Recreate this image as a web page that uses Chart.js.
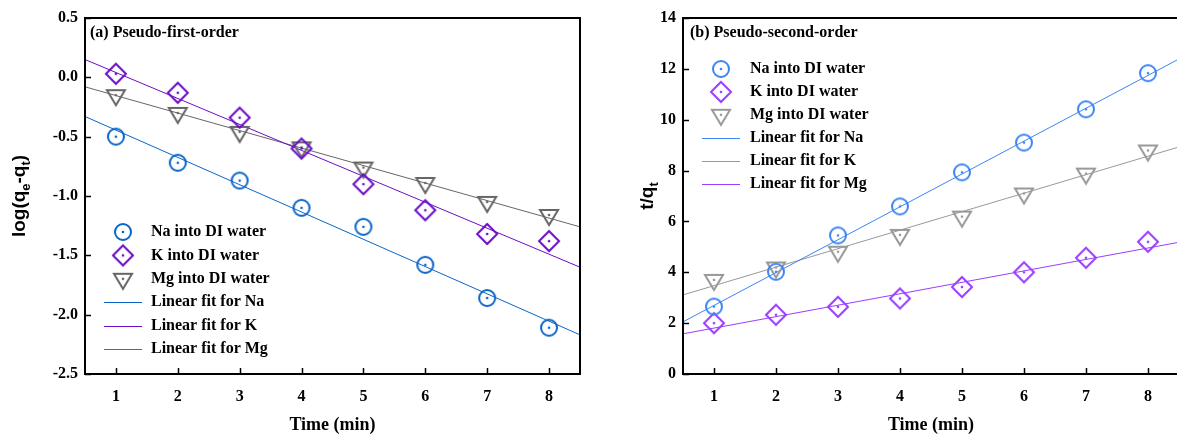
<!DOCTYPE html>
<html>
<head>
<meta charset="utf-8">
<script src="https://cdn.jsdelivr.net/npm/chart.js@4.4.1/dist/chart.umd.min.js"></script>
<style>
  body { margin: 0; background: #fff; overflow: hidden; width: 1177px; height: 438px; position: relative; }
  .panel { position: absolute; top: 0; }
  #boxA { left: 0; }
  #boxB { left: 600px; }
</style>
</head>
<body>
<div class="panel" id="boxA"><canvas id="chartA" width="600" height="438"></canvas></div>
<div class="panel" id="boxB"><canvas id="chartB" width="590" height="438"></canvas></div>
<script>
// time axis (min)
const times = [1, 2, 3, 4, 5, 6, 7, 8];
const xTicks = [1, 2, 3, 4, 5, 6, 7, 8];
const fitX = [0.5, 8.5];

// (a) pseudo-first-order, log(qe-qt)
const naA = [-0.50, -0.72, -0.87, -1.10, -1.26, -1.58, -1.86, -2.11];
const kA = [0.03, -0.13, -0.34, -0.60, -0.90, -1.12, -1.32, -1.38];
const mgA = [-0.15, -0.30, -0.46, -0.59, -0.76, -0.89, -1.05, -1.16];
const naFitA = [-0.33, -2.17];
const kFitA = [0.15, -1.60];
const mgFitA = [-0.08, -1.26];
const yTicksA = [0.5, 0.0, -0.5, -1.0, -1.5, -2.0, -2.5];

// (b) pseudo-second-order, t/qt
const naB = [2.65, 4.02, 5.45, 6.59, 7.93, 9.10, 10.41, 11.83];
const kB = [2.00, 2.33, 2.64, 2.97, 3.42, 4.00, 4.57, 5.20];
const mgB = [3.70, 4.19, 4.81, 5.47, 6.19, 7.10, 7.88, 8.79];
const naFitB = [2.05, 12.39];
const kFitB = [1.58, 5.18];
const mgFitB = [3.11, 8.93];
const yTicksB = [0, 2, 4, 6, 8, 10, 12, 14];

const SERIF = "'Liberation Serif', 'Times New Roman', serif";
const SANS = "'Liberation Sans', Arial, sans-serif";

const pts = (xs, ys) => xs.map((x, i) => ({ x: x, y: ys[i] }));

// hollow marker with a centre dot, like the Origin symbols
function marker(shape, color) {
  const c = document.createElement('canvas');
  c.width = 28; c.height = 28;
  const g = c.getContext('2d');
  const m = 14;
  g.strokeStyle = color; g.fillStyle = color; g.lineWidth = 2;
  g.beginPath();
  if (shape === 'circle') {
    g.arc(m, m, 8, 0, Math.PI * 2);
  } else if (shape === 'diamond') {
    g.moveTo(m, m - 10); g.lineTo(m + 10, m); g.lineTo(m, m + 10); g.lineTo(m - 10, m); g.closePath();
  } else {
    g.moveTo(m - 9, m - 5); g.lineTo(m + 9, m - 5); g.lineTo(m, m + 10); g.closePath();
  }
  g.stroke();
  g.beginPath(); g.arc(m, m, 1.3, 0, Math.PI * 2); g.fill();
  return c;
}

function pointSet(label, ys, shape, color) {
  return { label: label, data: pts(times, ys), pointStyle: marker(shape, color), pointRadius: 9,
           showLine: false, borderColor: color, backgroundColor: color };
}
function fitSet(label, ys, color, legendColor) {
  return { label: label, data: pts(fitX, ys), showLine: true, pointRadius: 0, pointStyle: 'line',
           borderColor: color, borderWidth: 1, legendColor: legendColor || color };
}

function richText(ctx, parts, cx, cy, size) {
  ctx.save();
  ctx.translate(cx, cy);
  ctx.rotate(-Math.PI / 2);
  ctx.fillStyle = '#000';
  ctx.textAlign = 'left';
  ctx.textBaseline = 'middle';
  let total = 0;
  parts.forEach(p => {
    ctx.font = 'bold ' + (p.sub ? size * 0.68 : size) + 'px ' + SANS;
    p.w = ctx.measureText(p.t).width;
    total += p.w;
  });
  let x = -total / 2;
  parts.forEach(p => {
    ctx.font = 'bold ' + (p.sub ? size * 0.68 : size) + 'px ' + SANS;
    ctx.fillText(p.t, x, p.sub ? size * 0.32 : 0);
    x += p.w;
  });
  ctx.restore();
}

const framePlugin = {
  id: 'frame',
  afterDraw(chart) {
    const cfg = chart.options.plugins.frame;
    const ctx = chart.ctx;
    const a = chart.chartArea;
    const xs = chart.scales.x, ys = chart.scales.y;
    ctx.save();
    ctx.strokeStyle = '#000';
    ctx.lineWidth = 2;
    ctx.strokeRect(a.left, a.top, a.right - a.left, a.bottom - a.top);
    // inward tick marks
    ctx.beginPath();
    xs.ticks.forEach(t => {
      const px = Math.round(xs.getPixelForValue(t.value)) + 0.5;
      ctx.moveTo(px, a.bottom); ctx.lineTo(px, a.bottom - 6);
    });
    ys.ticks.forEach(t => {
      const py = Math.round(ys.getPixelForValue(t.value)) + 0.5;
      ctx.moveTo(a.left, py); ctx.lineTo(a.left + 6, py);
    });
    ctx.lineWidth = 1.5;
    ctx.stroke();

    // panel title
    ctx.fillStyle = '#000';
    ctx.font = 'bold 16px ' + SERIF;
    ctx.textAlign = 'left';
    ctx.textBaseline = 'middle';
    ctx.fillText(cfg.title, cfg.titleX, 33);

    // y axis title with subscripts
    richText(ctx, cfg.yTitle, cfg.yTitleX, (a.top + a.bottom) / 2, 19);

    // legend
    const lg = cfg.legend;
    chart.data.datasets.forEach((ds, i) => {
      const y = lg.top + i * lg.step;
      if (ds.pointStyle instanceof HTMLCanvasElement) {
        const img = ds.pointStyle;
        ctx.drawImage(img, lg.x - img.width / 2, y - img.height / 2);
      } else {
        ctx.beginPath();
        ctx.strokeStyle = ds.legendColor;
        ctx.lineWidth = 1;
        ctx.moveTo(lg.x - 19, Math.round(y) + 0.5);
        ctx.lineTo(lg.x + 19, Math.round(y) + 0.5);
        ctx.stroke();
      }
      ctx.fillStyle = '#000';
      ctx.font = 'bold 16px ' + SERIF;
      ctx.fillText(ds.label, lg.textX, y);
    });
    ctx.restore();
  }
};

function makeChart(id, p) {
  return new Chart(document.getElementById(id), {
    type: 'scatter',
    data: { datasets: p.datasets },
    plugins: [framePlugin],
    options: {
      responsive: false,
      animation: false,
      layout: { padding: { top: 18, right: p.padRight, left: 0, bottom: 0 } },
      plugins: {
        legend: { display: false },
        tooltip: { enabled: false },
        frame: p.frame
      },
      scales: {
        x: {
          type: 'linear', min: 0.5, max: 8.5,
          grid: { display: false, drawTicks: false },
          border: { display: false },
          afterBuildTicks: s => { s.ticks = xTicks.map(v => ({ value: v })); },
          afterFit: s => { s.height = 64; },
          ticks: { color: '#000', padding: 13, font: { family: SERIF, size: 16, weight: 'bold' } },
          title: { display: true, text: 'Time (min)', color: '#000', padding: { top: 0, bottom: 2 },
                   font: { family: SERIF, size: 18, weight: 'bold' } }
        },
        y: {
          type: 'linear', min: p.yMin, max: p.yMax,
          grid: { display: false, drawTicks: false },
          border: { display: false },
          afterBuildTicks: s => { s.ticks = p.yTicks.map(v => ({ value: v })); },
          afterFit: s => { s.width = p.yWidth; },
          ticks: { color: '#000', padding: 7, callback: p.fmt, font: { family: SERIF, size: 16, weight: 'bold' } }
        }
      }
    }
  });
}

makeChart('chartA', {
  yMin: -2.5, yMax: 0.5, yTicks: yTicksA, yWidth: 85, padRight: 20,
  fmt: v => v.toFixed(1),
  datasets: [
    pointSet('Na into DI water', naA, 'circle', '#0a64c8'),
    pointSet('K into DI water', kA, 'diamond', '#6a0dc8'),
    pointSet('Mg into DI water', mgA, 'triangle', '#666666'),
    fitSet('Linear fit for Na', naFitA, '#0a64c8'),
    fitSet('Linear fit for K', kFitA, '#6a0dc8'),
    fitSet('Linear fit for Mg', mgFitA, '#666666')
  ],
  frame: {
    title: '(a) Pseudo-first-order', titleX: 90, yTitleX: 20,
    yTitle: [{ t: 'log(q' }, { t: 'e', sub: true }, { t: '-q' }, { t: 't', sub: true }, { t: ')' }],
    legend: { x: 123, textX: 151, top: 232, step: 23.4 }
  }
});

makeChart('chartB', {
  yMin: 0, yMax: 14, yTicks: yTicksB, yWidth: 83, padRight: 11,
  fmt: v => String(v),
  datasets: [
    pointSet('Na into DI water', naB, 'circle', '#3d85f5'),
    pointSet('K into DI water', kB, 'diamond', '#9b3dff'),
    pointSet('Mg into DI water', mgB, 'triangle', '#999999'),
    fitSet('Linear fit for Na', naFitB, '#3d85f5'),
    fitSet('Linear fit for K', kFitB, '#9b3dff', '#999999'),
    fitSet('Linear fit for Mg', mgFitB, '#999999', '#9b3dff')
  ],
  frame: {
    title: '(b) Pseudo-second-order', titleX: 90, yTitleX: 48,
    yTitle: [{ t: 't/q' }, { t: 't', sub: true }],
    legend: { x: 121, textX: 150, top: 69, step: 22.9 }
  }
});
</script>
</body>
</html>
